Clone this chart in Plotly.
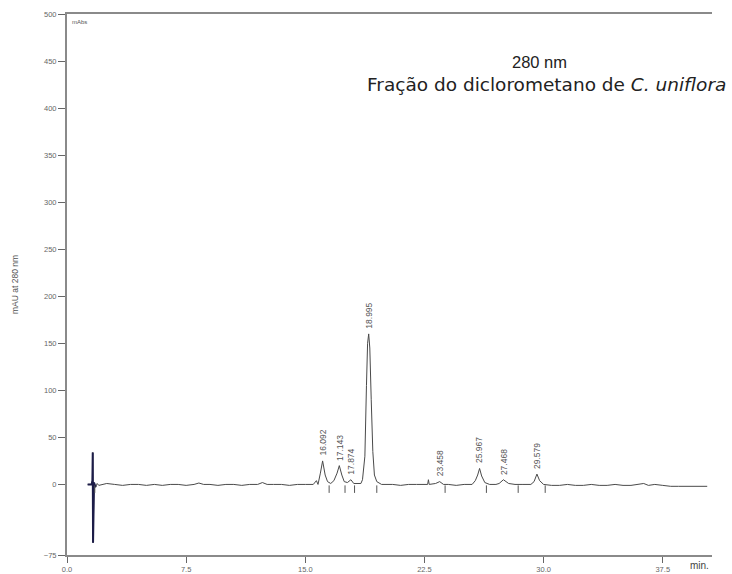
import plotly.graph_objects as go

# Chromatogram trace (time in min, absorbance in mAU)
time_min = [1.30, 1.55, 1.60, 1.62, 1.64, 1.66, 1.70, 1.80, 1.90, 2.00, 2.20, 2.50, 3.0, 3.5, 4.0, 4.5,
            5.0, 5.5, 6.0, 6.5, 7.0, 7.5, 8.0, 8.3, 8.6, 9.0, 9.5, 10.0, 10.5, 11.0, 11.5, 12.0,
            12.3, 12.6, 13.0, 13.5, 14.0, 14.5, 15.0, 15.5, 15.7, 15.8, 15.95, 16.09, 16.25,
            16.4, 16.6, 16.8, 17.0, 17.14, 17.3, 17.45, 17.65, 17.87, 18.05, 18.3, 18.5, 18.6,
            18.75, 18.85, 18.92, 18.99, 19.06, 19.15, 19.25, 19.35, 19.5, 19.8, 20.5, 21.0,
            21.5, 22.0, 22.7, 22.75, 22.8, 23.2, 23.46, 23.7, 24.0, 24.5, 25.0, 25.5, 25.7,
            25.85, 25.97, 26.1, 26.3, 26.6, 27.0, 27.2, 27.47, 27.8, 28.2, 28.7, 29.2, 29.4,
            29.58, 29.75, 30.0, 30.5, 31.0, 31.5, 32.0, 32.5, 33.0, 33.5, 34.0, 34.5, 35.0,
            35.5, 36.0, 36.3, 36.6, 37.0, 37.5, 38.0, 38.5, 39.0, 39.5, 40.3]
absorbance = [0, 0, 4, 34, -62, -3, 2, -3, 1, -1, 0, 1, 0, -1, 0, 0,
              -1, 0, -1, 0, 0, -1, 0, 1.5, 0, 0, -1, 0, 0, -1, 0, 0,
              2, 0, 0, 0, -1, 0, 0, 0, 4, 0, 12, 25, 10,
              3, 1, 4, 12, 20, 10, 3, 2, 5, 1, 1, 1, 5,
              30, 105, 150, 160, 145, 90, 35, 10, 3, 0, 0, -1,
              0, 0, 0, 5, 0, 1, 3, 0, 0, -1, 0, 0, 4,
              10, 17, 9, 2, 0, 0, 1, 5, 1, 0, 0, 0, 3,
              11, 4, 0, -1, -1, 0, -1, -1, 0, -1, -1, 0, -1,
              -1, 0, 1, -1, 0, -1, -2, -2, -2, -2, -2]

# Injection disturbance segment (drawn darker), index range in the trace above
spike_end_index = 8

# Integration (baseline) marks below the trace
mark_times = [1.75, 16.5, 17.5, 18.1, 19.5, 23.8, 26.4, 28.4, 30.1]

# Peak labels
peak_times = [16.092, 17.143, 17.874, 18.995, 23.458, 25.967, 27.468, 29.579]
peak_heights = [25, 20, 5, 160, 3, 17, 5, 11]
peak_labels = ["16.092", "17.143", "17.874", "18.995", "23.458", "25.967", "27.468", "29.579"]

x_ticks = [0.0, 7.5, 15.0, 22.5, 30.0, 37.5]
x_tick_text = ["0.0", "7.5", "15.0", "22.5", "30.0", "37.5"]
y_ticks = [-75, 0, 50, 100, 150, 200, 250, 300, 350, 400, 450, 500]

fig = go.Figure()
fig.add_trace(go.Scatter(x=time_min, y=absorbance, mode="lines",
                         line=dict(color="#4a4a4a", width=1), hoverinfo="skip"))
fig.add_trace(go.Scatter(x=time_min[:spike_end_index], y=absorbance[:spike_end_index], mode="lines",
                         line=dict(color="#1c1c48", width=2), hoverinfo="skip"))

mx, my = [], []
for t in mark_times:
    mx += [t, t, None]
    my += [-1, -9, None]
fig.add_trace(go.Scatter(x=mx, y=my, mode="lines", line=dict(color="#555555", width=1),
                         hoverinfo="skip"))

for t, h, lab in zip(peak_times, peak_heights, peak_labels):
    fig.add_annotation(x=t, y=h, text=lab, textangle=-90, showarrow=False,
                       xanchor="center", yanchor="bottom", yshift=3,
                       font=dict(size=8.5, color="#555555", family="Liberation Sans"))

fig.add_annotation(x=0.733, y=0.911, xref="paper", yref="paper", text="280 nm", showarrow=False,
                   xanchor="center", yanchor="middle",
                   font=dict(size=16.5, color="#222222", family="Liberation Sans"))
fig.add_annotation(x=1.025, y=0.869, xref="paper", yref="paper", xanchor="right", yanchor="middle",
                   text="Fração do diclorometano de <i>C. uniflora</i>", showarrow=False,
                   font=dict(size=18.5, color="#222222", family="DejaVu Sans"))
fig.add_annotation(x=0.005, y=0.995, xref="paper", yref="paper", xanchor="left", yanchor="top",
                   text="mAbs", showarrow=False,
                   font=dict(size=6, color="#555555", family="Liberation Sans"))
fig.add_annotation(x=0.98, y=0, xref="paper", yref="paper", xanchor="center", yanchor="top",
                   yshift=-3, text="min.", showarrow=False,
                   font=dict(size=10, color="#444444", family="Liberation Sans"))

fig.update_layout(
    width=732, height=574,
    margin=dict(l=67, r=20, t=14, b=19, autoexpand=False),
    paper_bgcolor="white", plot_bgcolor="white",
    showlegend=False,
    font=dict(family="Liberation Sans", color="#555555"),
)
fig.update_xaxes(range=[0, 40.6], tickvals=x_ticks, ticktext=x_tick_text, automargin=False,
                 showgrid=False, zeroline=False, showline=True, linecolor="#8a8a8a", linewidth=2,
                 mirror=True, ticks="outside", ticklen=6, tickcolor="#666666",
                 tickfont=dict(size=7.5, color="#666666"))
fig.update_yaxes(range=[-75, 500], tickvals=y_ticks, automargin=False,
                 showgrid=False, zeroline=False, showline=True, linecolor="#8a8a8a", linewidth=2,
                 ticks="outside", ticklen=7, tickcolor="#666666",
                 tickfont=dict(size=7.5, color="#666666"),
                 title=dict(text="mAU at 280 nm", font=dict(size=8.5, color="#555555"), standoff=24))

fig.write_html("out.html")
